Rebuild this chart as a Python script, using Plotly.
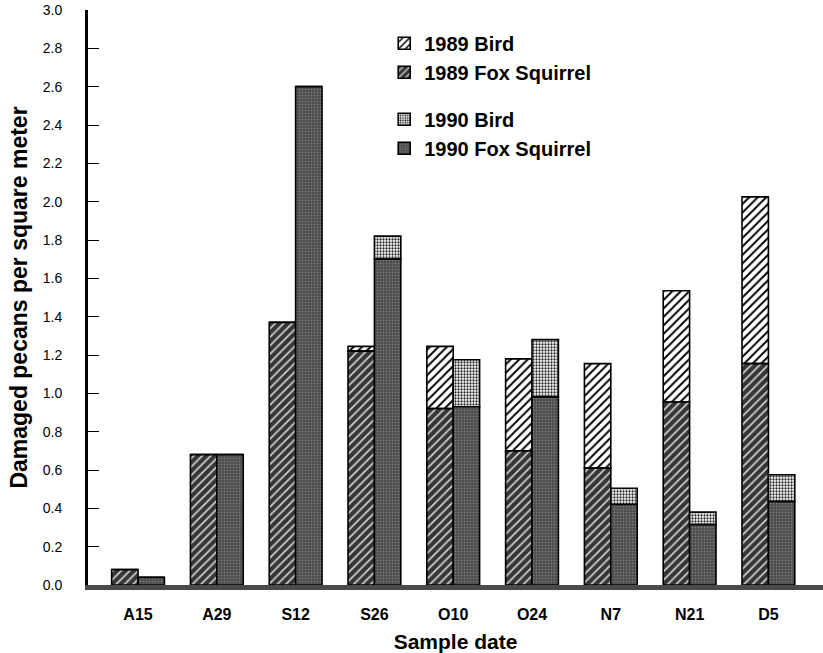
import plotly.graph_objects as go

dates = ["A15", "A29", "S12", "S26", "O10", "O24", "N7", "N21", "D5"]
fox_1989 = [0.08, 0.68, 1.37, 1.22, 0.92, 0.70, 0.61, 0.955, 1.155]
bird_1989 = [0.0, 0.0, 0.0, 0.025, 0.325, 0.48, 0.545, 0.58, 0.87]
fox_1990 = [0.04, 0.68, 2.60, 1.70, 0.93, 0.98, 0.42, 0.315, 0.435]
bird_1990 = [0.0, 0.0, 0.0, 0.12, 0.245, 0.30, 0.085, 0.065, 0.14]
y_ticks = [0.0, 0.2, 0.4, 0.6, 0.8, 1.0, 1.2, 1.4, 1.6, 1.8, 2.0, 2.2, 2.4, 2.6, 2.8, 3.0]

FONT = "Liberation Sans, Arial, Helvetica, sans-serif"
W = 0.335
line = dict(color="black", width=1.6)

fig = go.Figure()

fig.add_trace(go.Bar(
    x=dates, y=bird_1989, base=fox_1989, name="1989 Bird",
    legendgroup="1989", legendrank=1, offset=-W, width=W,
    marker=dict(color="white", line=line,
                pattern=dict(shape="/", fgcolor="black", bgcolor="white",
                             size=6, solidity=0.32, fillmode="replace")),
))
fig.add_trace(go.Bar(
    x=dates, y=fox_1989, name="1989 Fox Squirrel",
    legendgroup="1989", legendrank=2, offset=-W, width=W,
    marker=dict(color="#363636", line=line,
                pattern=dict(shape="/", fgcolor="#d0d0d0", bgcolor="#363636",
                             size=6, solidity=0.28, fillmode="replace")),
))
fig.add_trace(go.Bar(
    x=dates, y=bird_1990, base=fox_1990, name="1990 Bird",
    legendgroup="1990", legendrank=3, offset=0, width=W,
    marker=dict(color="white", line=line,
                pattern=dict(shape=".", fgcolor="#2a2a2a", bgcolor="white",
                             size=3, solidity=0.45, fillmode="replace")),
))
fig.add_trace(go.Bar(
    x=dates, y=fox_1990, name="1990 Fox Squirrel",
    legendgroup="1990", legendrank=4, offset=0, width=W,
    marker=dict(color="#505050", line=line,
                pattern=dict(shape=".", fgcolor="#808080", bgcolor="#505050",
                             size=3, solidity=0.2, fillmode="replace")),
))

fig.update_layout(
    width=823, height=653,
    barmode="overlay",
    plot_bgcolor="white", paper_bgcolor="white",
    margin=dict(l=88, r=0, t=10, b=68),
    font=dict(family=FONT, color="black"),
    showlegend=True,
    legend=dict(
        x=0.403, y=0.976, xanchor="left", yanchor="top",
        bgcolor="rgba(0,0,0,0)", traceorder="grouped",
        tracegroupgap=18, itemwidth=30,
        font=dict(family=FONT, size=20, color="black", weight="bold"),
    ),
    xaxis=dict(
        type="category", categoryorder="array", categoryarray=dates,
        range=[-0.635, 8.693], automargin=False,
        showline=True, linecolor="#4a4a4a", linewidth=5,
        ticks="", showgrid=False, zeroline=False,
        tickfont=dict(family=FONT, size=16, color="black", weight="bold"),
        ticklabelstandoff=11,
        title=dict(text="Sample date", standoff=18,
                   font=dict(family=FONT, size=21, color="black", weight="bold")),
    ),
    yaxis=dict(
        range=[0, 3.0], tickvals=y_ticks, automargin=False,
        ticktext=[f"{v:.1f}" for v in y_ticks],
        showline=True, linecolor="black", linewidth=3,
        ticks="inside", ticklen=11, tickwidth=1, tickcolor="black",
        showgrid=False, zeroline=False,
        tickfont=dict(family=FONT, size=14, color="black"),
        ticklabelstandoff=20,
        title=dict(text="Damaged pecans per square meter", standoff=9,
                   font=dict(family=FONT, size=23, color="black", weight="bold")),
    ),
)

fig.write_html("out.html",
               config={"displayModeBar": False},
               post_script="document.body.style.margin='0';document.body.style.overflow='hidden';")
